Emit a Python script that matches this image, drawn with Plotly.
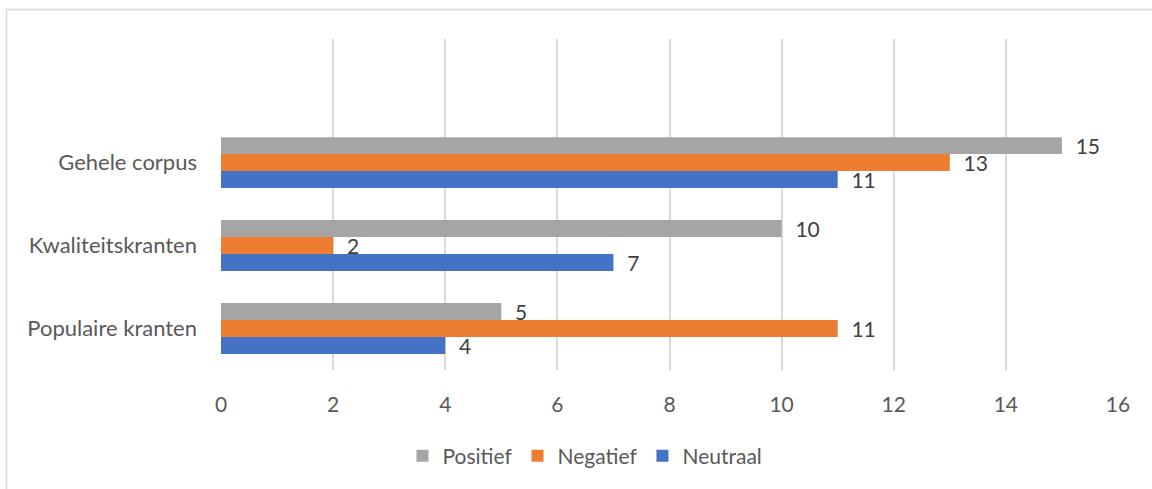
import plotly.graph_objects as go

categories = ["Populaire kranten", "Kwaliteitskranten", "Gehele corpus"]
positief = [5, 10, 15]
negatief = [11, 2, 13]
neutraal = [4, 7, 11]
x_ticks = [0, 2, 4, 6, 8, 10, 12, 14, 16]

FONT = "Lato, 'Open Sans', sans-serif"
FS = 21
W, H = 1152, 489
ML, MR, MT, MB = 221, 34, 39, 119

fig = go.Figure()
series = [("Neutraal", neutraal, "#4472C4"),
          ("Negatief", negatief, "#ED7D31"),
          ("Positief", positief, "#A5A5A5")]
for name, vals, col in series:
    fig.add_trace(go.Bar(
        name=name, y=categories, x=vals, orientation="h",
        marker=dict(color=col, line=dict(width=0)),
        text=[f"  {v}" for v in vals], textposition="outside",
        constraintext="none",
        textfont=dict(family=FONT, size=FS, color="#404040"),
        cliponaxis=False,
    ))

pw = W - ML - MR
ph = H - MT - MB
fig.add_shape(type="rect", xref="paper", yref="paper",
              x0=(6.5 - ML) / pw, x1=(W + 20 - ML) / pw,
              y0=(H - MB - (H + 20)) / ph, y1=(H - MB - 9.5) / ph,
              line=dict(color="#D9D9D9", width=1.5), layer="below")

fig.update_layout(
    width=W, height=H,
    margin=dict(l=ML, r=MR, t=MT, b=MB, pad=0),
    barmode="group", bargap=0.386, bargroupgap=0,
    plot_bgcolor="white", paper_bgcolor="white",
    font=dict(family=FONT, size=FS, color="#595959"),
    uniformtext=dict(mode=False),
    xaxis=dict(range=[0, 16], tickvals=x_ticks, showgrid=True,
               gridcolor="#D9D9D9", gridwidth=1.5, zeroline=False,
               showline=False, ticks="", ticklabelstandoff=20,
               tickfont=dict(family=FONT, size=FS, color="#595959")),
    yaxis=dict(categoryorder="array", categoryarray=categories,
               range=[-0.5, 3.49], showgrid=False, zeroline=False,
               showline=False, ticks="", ticklabelstandoff=23,
               tickfont=dict(family=FONT, size=22, color="#595959")),
    legend=dict(orientation="h", x=(585 - ML) / pw,
                xanchor="center",
                y=(H - MB - 456) / ph, yanchor="middle",
                traceorder="reversed",
                font=dict(family=FONT, size=FS, color="#595959"),
                itemwidth=30),
    showlegend=True,
)

fig.write_html("out.html", config={"displayModeBar": False},
               post_script="document.body.style.margin='0';")
